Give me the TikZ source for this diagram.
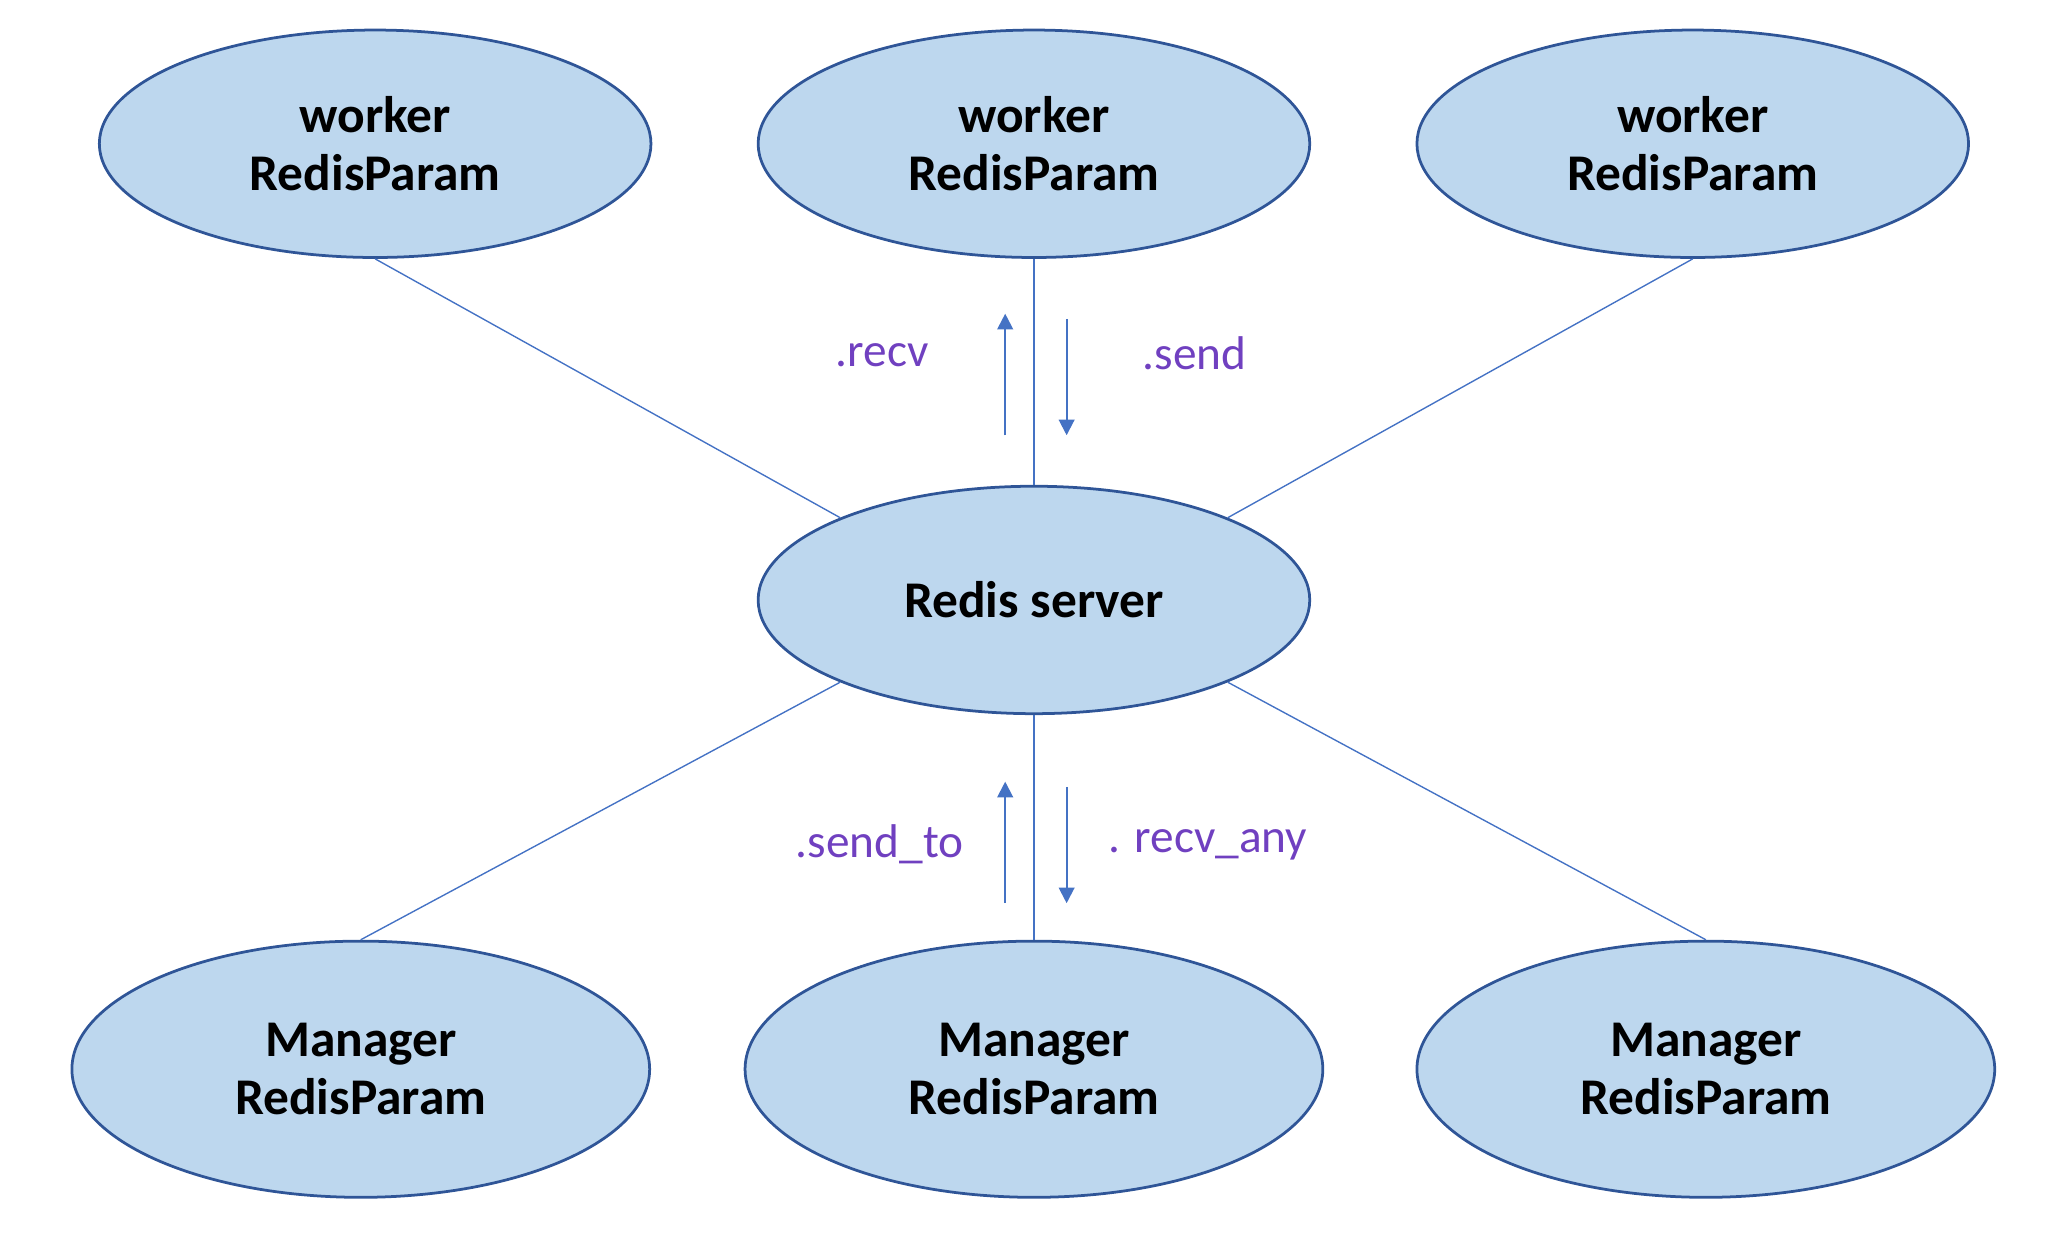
\documentclass[tikz,border=0pt]{standalone}
\usepackage{fontspec}
\setmainfont{Carlito}
\usepackage{tikz}
\usetikzlibrary{shapes.geometric,arrows.meta}

\definecolor{cellfill}{HTML}{BDD7EE}
\definecolor{celldraw}{HTML}{2F5597}
\definecolor{linkblue}{HTML}{4472C4}
\definecolor{callpurple}{RGB}{112,64,192}

\tikzset{
  proc/.style={ellipse, draw=celldraw, fill=cellfill, line width=0.6pt, inner sep=0pt,
    minimum width=4.22cm, minimum height=1.74cm, align=center,
    font=\fontsize{11.2}{12.6}\selectfont\bfseries},
  mgr/.style={proc, minimum width=4.42cm, minimum height=1.96cm},
  link/.style={draw=linkblue, line width=0.3pt},
  call/.style={draw=linkblue, line width=0.45pt, -{Triangle[width=1.2mm,length=1.2mm]}},
  calltext/.style={text=callpurple, font=\fontsize{10.3}{12}\selectfont}
}

\begin{document}
\begin{tikzpicture}
    \useasboundingbox (0, 0) rectangle (15.66, -9.51) ;
\node[proc] (w1) at (2.87, -1.10) {worker\\RedisParam} ; % worker.0
\node[proc] (w2) at (7.91, -1.10) {worker\\RedisParam} ; % worker.1
\node[proc] (w3) at (12.95, -1.10) {worker\\RedisParam} ; % worker.2
\node[proc] (srv) at (7.91, -4.59) {Redis server} ; % server
\node[mgr] (m1) at (2.76, -8.18) {Manager\\RedisParam} ; % manager.0
\node[mgr] (m2) at (7.91, -8.18) {Manager\\RedisParam} ; % manager.1
\node[mgr] (m3) at (13.05, -8.18) {Manager\\RedisParam} ; % manager.2
\draw[link] (w1.south)  -- (srv.157) ; % w1-srv
\draw[link] (w2.south)  -- (srv.north) ; % w2-srv
\draw[link] (w3.south)  -- (srv.23) ; % w3-srv
\draw[link] (srv.203)  -- (m1.north) ; % srv-m1
\draw[link] (srv.south)  -- (m2.north) ; % srv-m2
\draw[link] (srv.337)  -- (m3.north) ; % srv-m3
\coordinate (recvA) at (7.69, -3.33) ;
\coordinate (recvB) at (7.69, -2.40) ;
\coordinate (sendA) at (8.16, -2.44) ;
\coordinate (sendB) at (8.16, -3.33) ;
\draw[call] (recvA)  -- (recvB) ; % recv
\draw[call] (sendA)  -- (sendB) ; % send
\node[calltext] (recv) at (6.75, -2.72) {.recv} ;
\node[calltext] (send) at (9.14, -2.70) {.send} ;
\coordinate (sendtoA) at (7.69, -6.91) ;
\coordinate (sendtoB) at (7.69, -5.98) ;
\coordinate (anyA) at (8.16, -6.02) ;
\coordinate (anyB) at (8.16, -6.91) ;
\draw[call] (sendtoA)  -- (sendtoB) ; % send_to
\draw[call] (anyA)  -- (anyB) ; % recv_any
\node[calltext] (sendto) at (6.73, -6.46) {.send\_to} ;
\node[calltext] (recvany) at (9.24, -6.46) {. recv\_any} ;
    \end{tikzpicture}
\end{document}
